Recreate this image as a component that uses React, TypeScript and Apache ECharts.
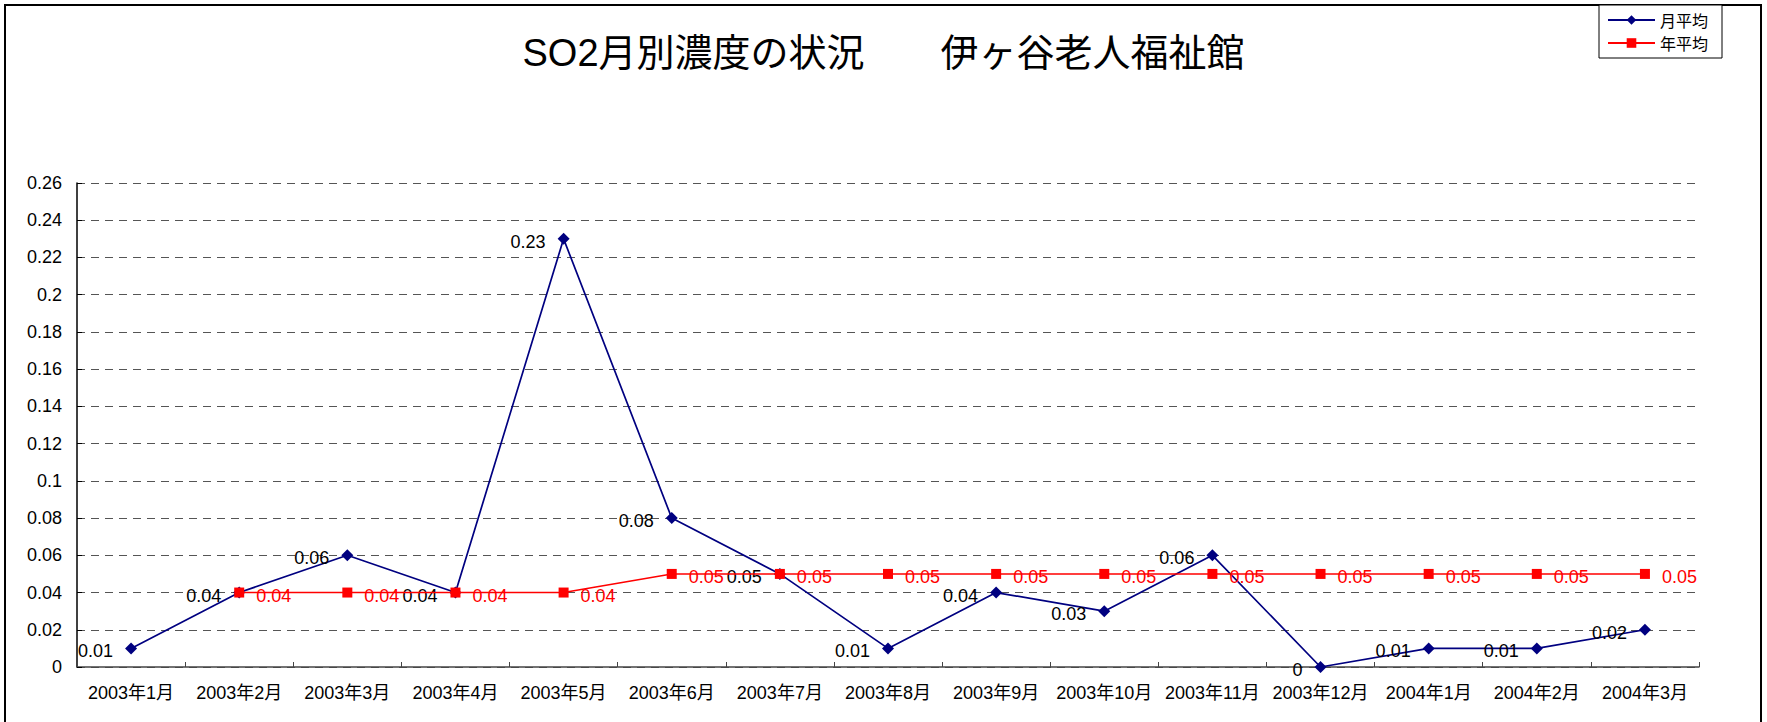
import React, { useEffect, useRef } from "react";
import * as echarts from "echarts";

const categories = [
  "2003年1月", "2003年2月", "2003年3月", "2003年4月", "2003年5月",
  "2003年6月", "2003年7月", "2003年8月", "2003年9月", "2003年10月",
  "2003年11月", "2003年12月", "2004年1月", "2004年2月", "2004年3月",
];
const monthlyAvg = [0.01, 0.04, 0.06, 0.04, 0.23, 0.08, 0.05, 0.01, 0.04, 0.03, 0.06, 0, 0.01, 0.01, 0.02];
const yearlyAvg = [null, 0.04, 0.04, 0.04, 0.04, 0.05, 0.05, 0.05, 0.05, 0.05, 0.05, 0.05, 0.05, 0.05, 0.05];
const seriesNames = ["月平均", "年平均"];
const titleText = "SO2月別濃度の状況　　伊ヶ谷老人福祉館";

const FONT = "'Liberation Sans', 'Noto Sans CJK JP', sans-serif";

export default function App() {
  const ref = useRef<HTMLDivElement>(null);
  useEffect(() => {
    if (!ref.current) return;
    const chart = echarts.init(ref.current, null, { renderer: "svg" });
    chart.setOption({
      animation: false,
      backgroundColor: "#ffffff",
      textStyle: { fontFamily: FONT },
      title: {
        text: titleText,
        left: "center",
        top: 29,
        textStyle: { fontFamily: FONT, fontSize: 38, fontWeight: "normal", color: "#000" },
      },
      graphic: [
        {
          type: "rect",
          shape: { x: 5, y: 5, width: 1756, height: 800 },
          style: { fill: "none", stroke: "#000", lineWidth: 2 },
          silent: true,
          z: -1,
        },
      ],
      legend: {
        orient: "vertical",
        left: 1599,
        top: 5,
        padding: [7, 14, 7, 8],
        itemGap: 7,
        itemWidth: 47,
        itemHeight: 12,
        itemTextGap: 5,
        borderColor: "#000",
        borderWidth: 1,
        backgroundColor: "#fff",
        textStyle: { fontFamily: "'Noto Sans CJK JP', sans-serif", fontSize: 16, color: "#000" },
        data: seriesNames,
      },
      grid: { left: 77, right: 68, top: 183, bottom: 55, containLabel: false },
      xAxis: {
        type: "category",
        data: categories,
        boundaryGap: true,
        axisLine: { lineStyle: { color: "#444", width: 1.5 } },
        axisTick: { show: true, inside: true, length: 5, interval: 0, lineStyle: { color: "#444" } },
        axisLabel: { interval: 0, fontSize: 18, color: "#000", margin: 17, fontFamily: FONT },
        splitLine: { show: false },
      },
      yAxis: {
        type: "value",
        min: 0,
        max: 0.26,
        interval: 0.02,
        axisLine: { show: true, lineStyle: { color: "#000", width: 1.5 } },
        axisTick: { show: true, inside: true, length: 5, lineStyle: { color: "#000" } },
        axisLabel: {
          fontSize: 18,
          color: "#000",
          margin: 15,
          fontFamily: FONT,
          formatter: (v: number) => String(+v.toFixed(2)),
        },
        splitLine: { show: true, lineStyle: { color: "#555", type: [8, 6], width: 1.2 } },
      },
      series: [
        {
          name: seriesNames[0],
          type: "line",
          data: monthlyAvg,
          symbol: "diamond",
          symbolSize: 12,
          color: "#000080",
          lineStyle: { color: "#000080", width: 1.7 },
          itemStyle: { color: "#000080" },
          label: {
            show: true,
            position: "left",
            distance: 12,
            offset: [0, 3],
            fontSize: 18,
            color: "#000",
            fontFamily: FONT,
          },
          z: 2,
        },
        {
          name: seriesNames[1],
          type: "line",
          data: yearlyAvg,
          symbol: "rect",
          symbolSize: 10,
          connectNulls: false,
          color: "#ff0000",
          lineStyle: { color: "#ff0000", width: 1.5 },
          itemStyle: { color: "#ff0000" },
          label: {
            show: true,
            position: "right",
            distance: 12,
            offset: [0, 3],
            fontSize: 18,
            color: "#ff0000",
            fontFamily: FONT,
          },
          z: 3,
        },
      ],
    });
    return () => chart.dispose();
  }, []);
  return (
    <div
      ref={ref}
      style={{ position: "absolute", left: 0, top: 0, width: 1767, height: 722 }}
    />
  );
}
